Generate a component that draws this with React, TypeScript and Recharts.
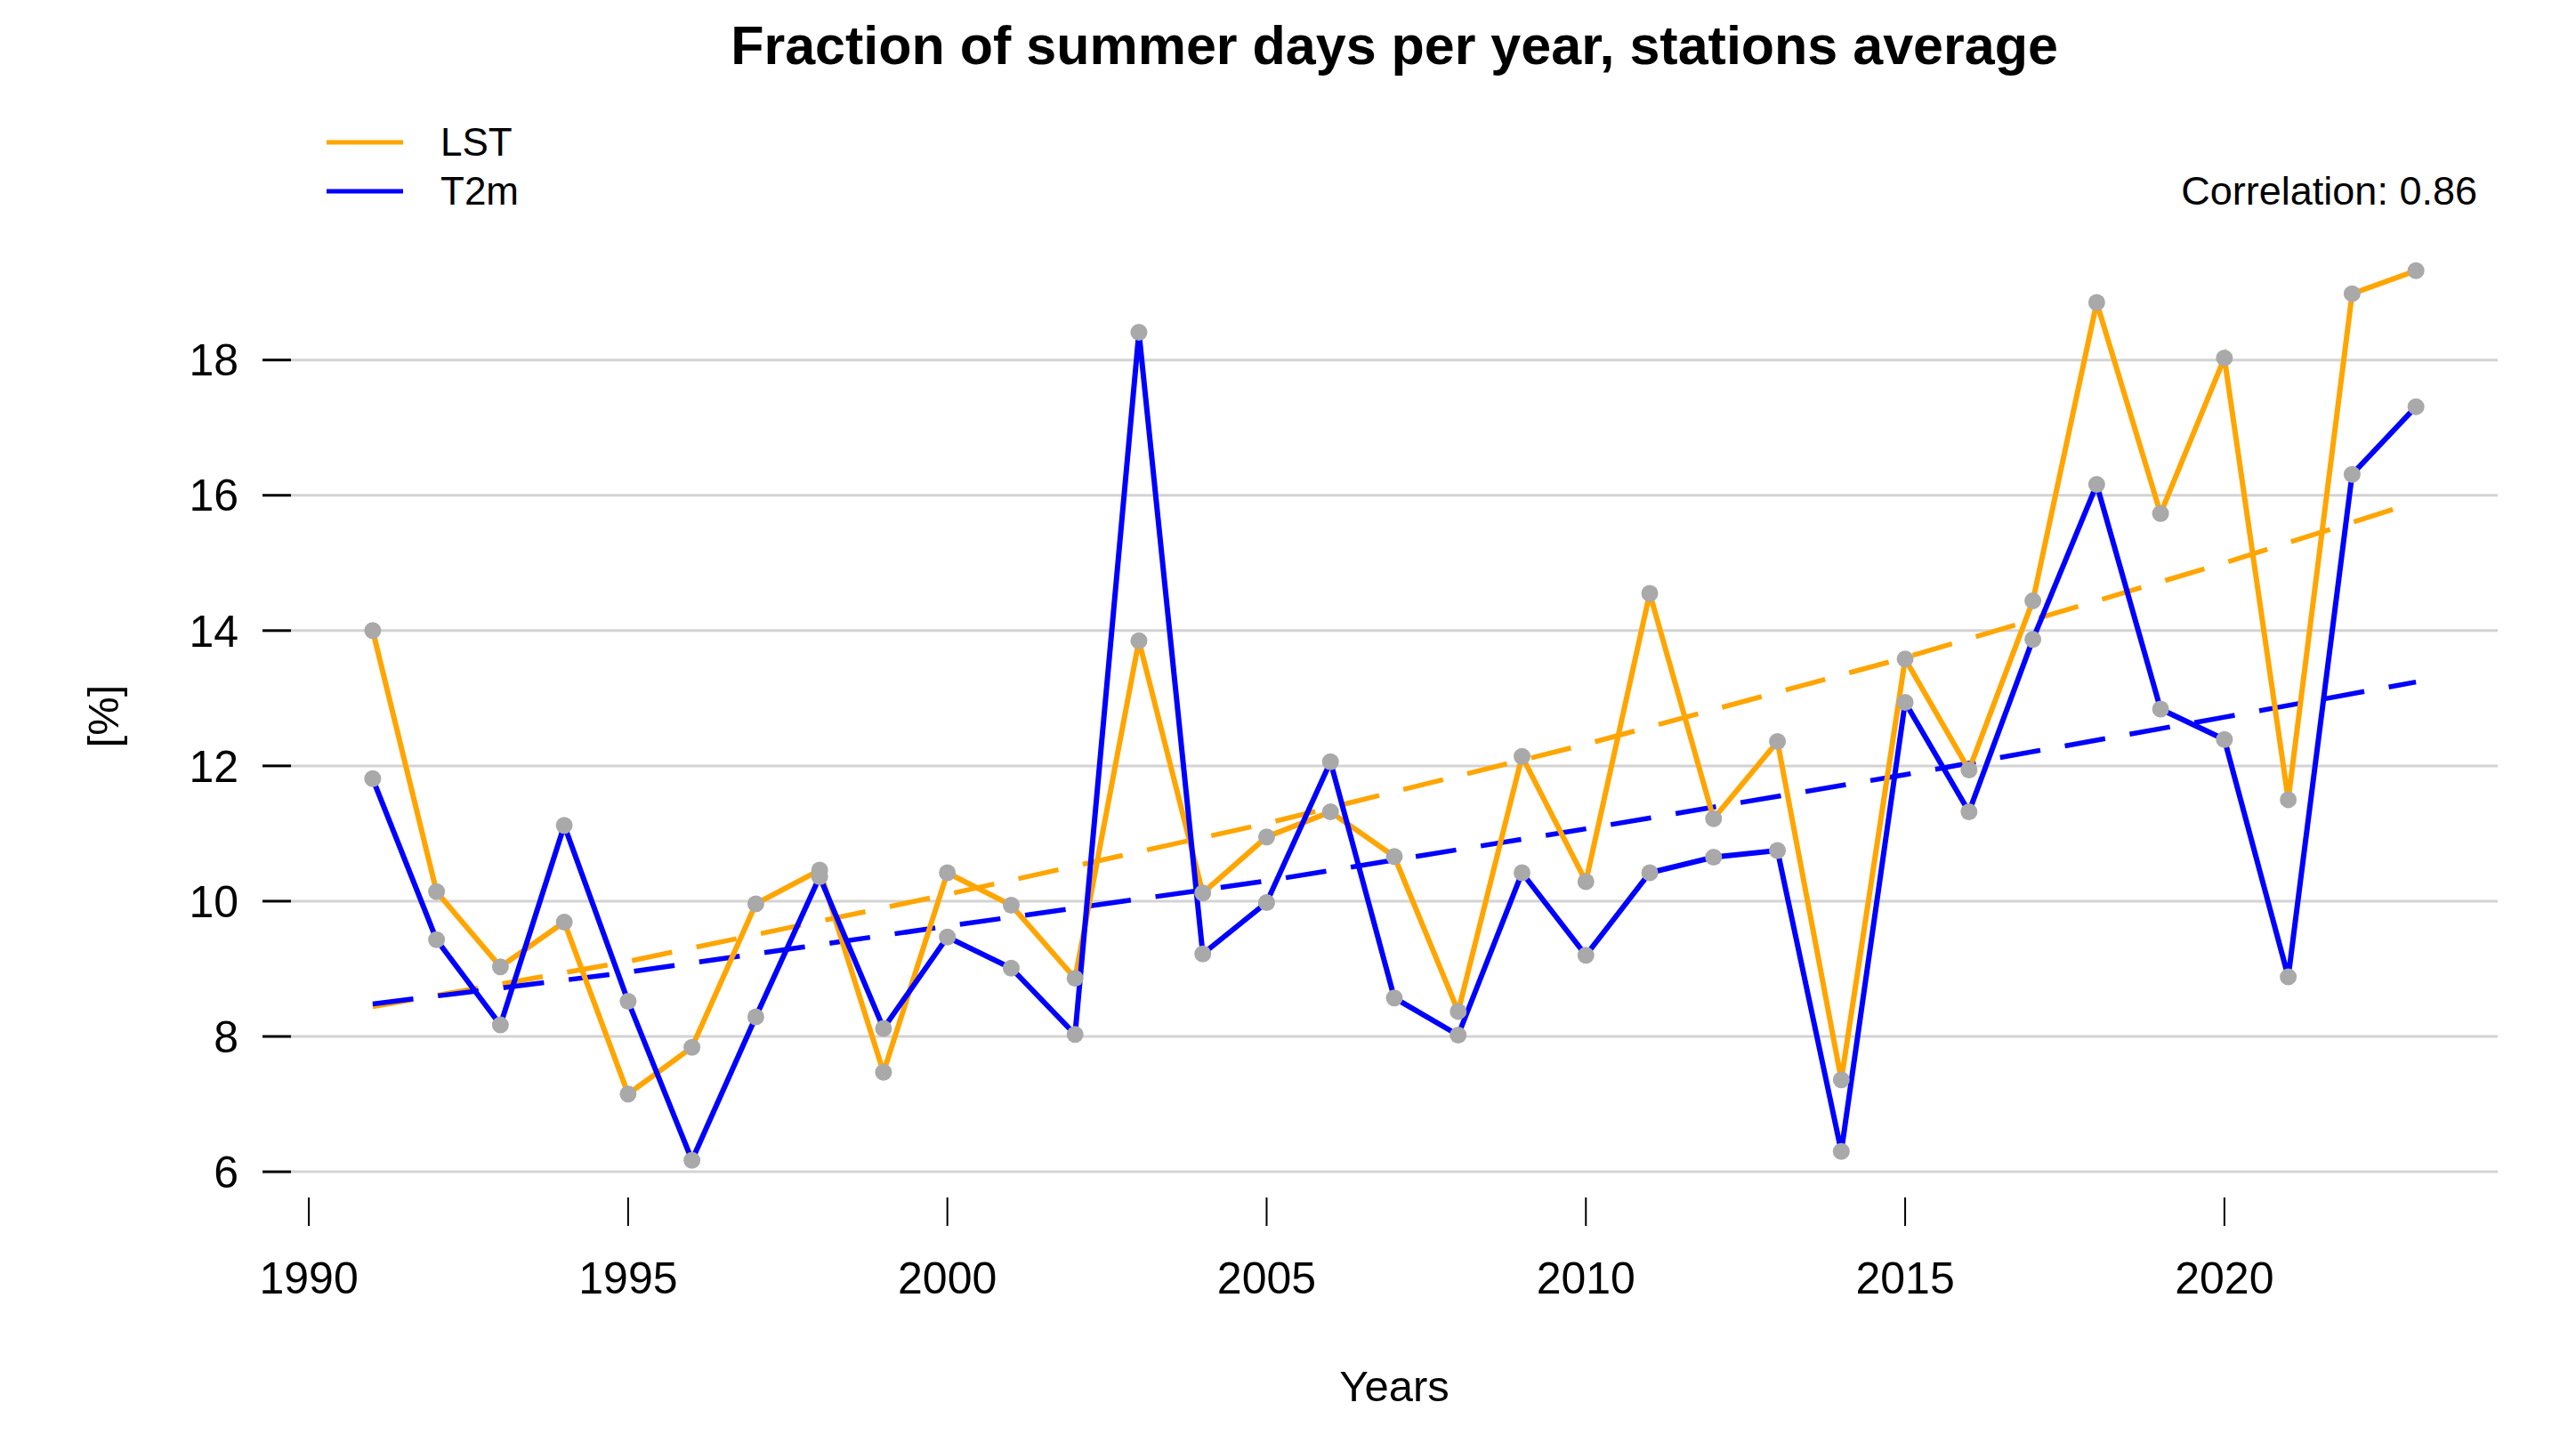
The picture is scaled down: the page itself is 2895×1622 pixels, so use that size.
import { Line, LineChart, ReferenceLine, XAxis, YAxis } from "recharts";

document.body.style.margin = "0";

const FONT = "'Liberation Sans', Arial, sans-serif";

const years = [
  1991, 1992, 1993, 1994, 1995, 1996, 1997, 1998, 1999, 2000, 2001, 2002, 2003, 2004, 2005, 2006, 2007,
  2008, 2009, 2010, 2011, 2012, 2013, 2014, 2015, 2016, 2017, 2018, 2019, 2020, 2021, 2022, 2023,
];
const lst = [
  14.0, 10.14, 9.03, 9.69, 7.15, 7.84, 9.96, 10.46, 7.47, 10.42, 9.94, 8.86, 13.85, 10.12, 10.95, 11.32,
  10.66, 8.37, 12.14, 10.29, 14.55, 11.22, 12.36, 7.36, 13.58, 11.94, 14.44, 18.85, 15.73, 18.03, 11.5,
  18.98, 19.32,
];
const t2m = [
  11.81, 9.43, 8.17, 11.12, 8.52, 6.17, 8.29, 10.36, 8.12, 9.47, 9.01, 8.03, 18.41, 9.22, 9.98, 12.06,
  8.57, 8.02, 10.42, 9.2, 10.42, 10.65, 10.75, 6.3, 12.94, 11.32, 13.87, 16.16, 12.84, 12.39, 8.88,
  16.31, 17.31,
];

const trendYears = [1991, 1995, 2000, 2005, 2010, 2015, 2020, 2023];
const lstTrend = [8.44, 9.11, 10.1, 11.15, 12.32, 13.6, 15.0, 15.9];
const t2mTrend = [8.48, 8.95, 9.63, 10.3, 11.07, 11.87, 12.72, 13.24];

const xTicks = [1990, 1995, 2000, 2005, 2010, 2015, 2020];
const yTicks = [6, 8, 10, 12, 14, 16, 18];

const series = years.map((year, i) => ({ year, lst: lst[i], t2m: t2m[i] }));
const lstTrendData = trendYears.map((year, i) => ({ year, v: lstTrend[i] }));
const t2mTrendData = trendYears.map((year, i) => ({ year, v: t2mTrend[i] }));

const legendItems = [
  { name: "LST", color: "#FFA500" },
  { name: "T2m", color: "#0000FF" },
];

const dotStyle = { r: 9.5, fill: "#A9A9A9", stroke: "none" };
const tickStyle = { fontSize: 50, fill: "#000", fontFamily: FONT };

export default function App() {
  return (
    <div style={{ position: "relative", width: 2895, height: 1622, background: "#fff" }}>
      <div
        style={{
          position: "absolute",
          left: 1567,
          top: 21,
          transform: "translateX(-50%)",
          whiteSpace: "nowrap",
          fontFamily: FONT,
          fontWeight: "bold",
          fontSize: 61,
          lineHeight: "61px",
        }}
      >
        Fraction of summer days per year, stations average
      </div>
      <div style={{ position: "absolute", left: 367, top: 132, fontFamily: FONT, fontSize: 44 }}>
        {legendItems.map((it) => (
          <div key={it.name} style={{ display: "flex", alignItems: "center", height: 55 }}>
            <svg width={86} height={10} style={{ display: "block" }}>
              <line x1={0} y1={5} x2={86} y2={5} stroke={it.color} strokeWidth={5} strokeLinecap="round" />
            </svg>
            <span style={{ marginLeft: 42, lineHeight: "55px" }}>{it.name}</span>
          </div>
        ))}
      </div>
      <div
        style={{
          position: "absolute",
          right: 111,
          top: 187,
          whiteSpace: "nowrap",
          fontFamily: FONT,
          fontSize: 45,
          lineHeight: "55px",
        }}
      >
        Correlation: 0.86
      </div>
      <div style={{ position: "absolute", left: 0, top: 0 }}>
        <LineChart
          width={2895}
          height={1622}
          data={series}
          margin={{ top: 264, right: 88, left: 0, bottom: 126 }}
        >
          <XAxis
            dataKey="year"
            type="number"
            domain={[1989.72, 2024.28]}
            ticks={xTicks}
            allowDataOverflow
            axisLine={false}
            tickLine={{ stroke: "#000", strokeWidth: 2 }}
            tickSize={32}
            tickMargin={40}
            tick={tickStyle}
            height={150}
            label={{
              content: ({ viewBox }: any) => (
                <text
                  x={viewBox.x + viewBox.width / 2}
                  y={1558}
                  textAnchor="middle"
                  dominantBaseline="central"
                  fontSize={49}
                  fontFamily={FONT}
                  fill="#000"
                >
                  Years
                </text>
              ),
            }}
          />
          <YAxis
            type="number"
            domain={[5.62, 19.85]}
            ticks={yTicks}
            allowDataOverflow
            width={327}
            axisLine={false}
            tickLine={{ stroke: "#000", strokeWidth: 3 }}
            tickSize={32}
            tickMargin={27}
            tick={tickStyle}
            label={{
              content: ({ viewBox }: any) => {
                const cy = viewBox.y + viewBox.height / 2;
                return (
                  <text
                    x={116}
                    y={cy}
                    transform={`rotate(-90 116 ${cy})`}
                    textAnchor="middle"
                    dominantBaseline="central"
                    fontSize={49}
                    fontFamily={FONT}
                    fill="#000"
                  >
                    [%]
                  </text>
                );
              },
            }}
          />
          {yTicks.map((t) => (
            <ReferenceLine key={t} y={t} stroke="#D3D3D3" strokeWidth={3} ifOverflow="hidden" />
          ))}
          <Line
            data={lstTrendData}
            dataKey="v"
            type="linear"
            stroke="#FFA500"
            strokeWidth={5.5}
            strokeDasharray="46 28"
            dot={false}
            activeDot={false}
            isAnimationActive={false}
          />
          <Line
            data={t2mTrendData}
            dataKey="v"
            type="linear"
            stroke="#0000FF"
            strokeWidth={5.5}
            strokeDasharray="46 28"
            dot={false}
            activeDot={false}
            isAnimationActive={false}
          />
          <Line dataKey="lst" type="linear" stroke="#FFA500" strokeWidth={6} dot={false} activeDot={false} isAnimationActive={false} />
          <Line dataKey="t2m" type="linear" stroke="#0000FF" strokeWidth={6} dot={false} activeDot={false} isAnimationActive={false} />
          <Line dataKey="lst" type="linear" stroke="none" dot={dotStyle} activeDot={false} isAnimationActive={false} />
          <Line dataKey="t2m" type="linear" stroke="none" dot={dotStyle} activeDot={false} isAnimationActive={false} />
        </LineChart>
      </div>
    </div>
  );
}
